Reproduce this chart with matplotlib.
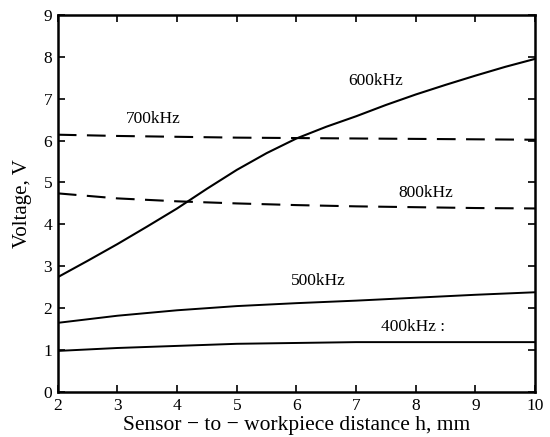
import matplotlib.pyplot as plt

# --- Data ---
h = [2, 3, 4, 5, 6, 7, 8, 9, 10]
h600 = [2, 2.5, 3, 3.5, 4, 4.5, 5, 5.5, 6, 6.5, 7, 7.5, 8, 8.5, 9, 9.5, 10]

v400 = [0.98, 1.05, 1.10, 1.15, 1.17, 1.19, 1.19, 1.19, 1.19]
v500 = [1.65, 1.82, 1.95, 2.05, 2.12, 2.18, 2.25, 2.32, 2.38]
v600 = [2.74, 3.13, 3.53, 3.95, 4.38, 4.85, 5.30, 5.70, 6.05,
        6.33, 6.58, 6.85, 7.10, 7.33, 7.55, 7.76, 7.95]
v700 = [6.14, 6.11, 6.09, 6.07, 6.06, 6.05, 6.04, 6.03, 6.02]
v800 = [4.74, 4.62, 4.55, 4.50, 4.46, 4.43, 4.41, 4.39, 4.38]

labels = ['400kHz :', '500kHz', '600kHz', '700kHz', '800kHz']
label_x = [7.95, 6.36, 7.32, 3.6, 8.16]
label_y = [1.55, 2.64, 7.43, 6.52, 4.76]

plt.rcParams['font.family'] = ['Liberation Serif', 'DejaVu Serif']

fig = plt.figure(figsize=(5.5, 4.37), dpi=100)
ax = fig.add_axes([0.105, 0.103, 0.868, 0.863])

ax.plot(h, v400, color='black', linewidth=1.4)
ax.plot(h, v500, color='black', linewidth=1.4)
ax.plot(h600, v600, color='black', linewidth=1.5)
ax.plot(h, v700, color='black', linewidth=1.5, dashes=(9, 5))
ax.plot(h, v800, color='black', linewidth=1.5, dashes=(9, 5))

# kurvetiketter
for txt, x, y in zip(labels, label_x, label_y):
    ax.text(x, y, txt, fontsize=12.5, ha='center', va='center')

ax.set_xlim(2, 10)
ax.set_ylim(0, 9)
ax.set_xticks(range(2, 11))
ax.set_yticks(range(0, 10))

ax.tick_params(direction='in', top=True, right=True, length=5, width=1.2,
               labelsize=12.5, pad=4)
for s in ax.spines.values():
    s.set_linewidth(1.8)

ax.set_xlabel('Sensor − to − workpiece distance h, mm', fontsize=15.5, labelpad=2)
ax.set_ylabel('Voltage, V', fontsize=15, labelpad=8)

plt.savefig('out.png', dpi=100)
